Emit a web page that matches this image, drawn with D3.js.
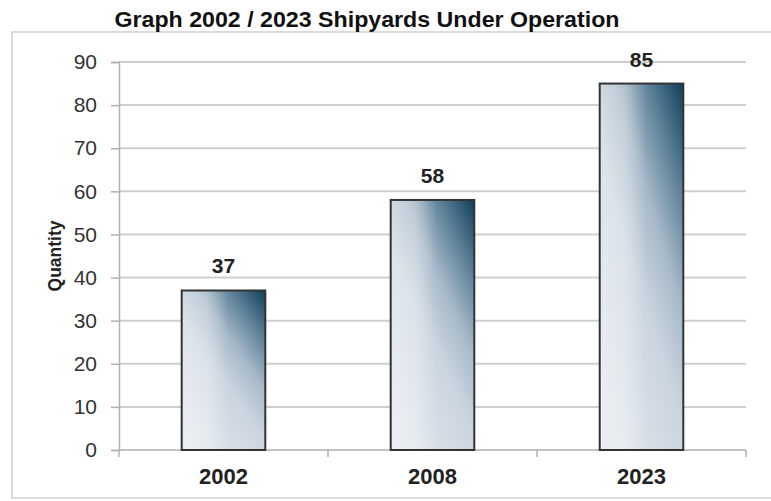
<!DOCTYPE html>
<html>
<head>
<meta charset="utf-8">
<script src="https://cdn.jsdelivr.net/npm/d3@7/dist/d3.min.js"></script>
<style>
  html, body { margin: 0; padding: 0; background: #fff; }
  svg { display: block; }
</style>
</head>
<body>
<script>
const title = "Graph 2002 / 2023 Shipyards Under Operation";
const categories = ["2002", "2008", "2023"];
const values = [37, 58, 85];
const yTicks = [0, 10, 20, 30, 40, 50, 60, 70, 80, 90];
const yLabel = "Quantity";

const W = 771, H = 501;
const margin = { left: 119, right: 25, top: 62, bottom: 51 };
const FONT = "Liberation Sans, Arial, sans-serif";

const svg = d3.select("body").append("svg").attr("width", W).attr("height", H);

// gradients
const defs = svg.append("defs");
const g1 = defs.append("linearGradient").attr("id", "barDiag")
  .attr("x1", 0.25).attr("y1", 1).attr("x2", 1).attr("y2", 0);
[[0, "#dfe5ec"], [0.4, "#cbd5df"], [0.6, "#a7b9c8"], [0.8, "#5c8098"], [1, "#0f3e5a"]]
  .forEach(([o, c]) => g1.append("stop").attr("offset", o).attr("stop-color", c));
const g2 = defs.append("linearGradient").attr("id", "barHi")
  .attr("x1", 0).attr("y1", 0).attr("x2", 1).attr("y2", 0);
[[0, "#ffffff", 0.35], [0.3, "#ffffff", 0.3], [0.55, "#ffffff", 0.0], [1, "#ffffff", 0]]
  .forEach(([o, c, a]) => g2.append("stop").attr("offset", o).attr("stop-color", c).attr("stop-opacity", a));

// outer frame
svg.append("rect").attr("x", 12).attr("y", 32).attr("width", 800).attr("height", 466)
  .attr("fill", "none").attr("stroke", "#d0d0d0").attr("stroke-width", 1.5);

// title
svg.append("text").attr("x", 367).attr("y", 27).attr("text-anchor", "middle")
  .attr("font-family", FONT).attr("font-weight", "bold")
  .attr("font-size", 22).attr("textLength", 505).attr("lengthAdjust", "spacingAndGlyphs")
  .attr("fill", "#111").text(title);

const x = d3.scaleBand().domain(categories)
  .range([margin.left, W - margin.right]).paddingInner(0.6).paddingOuter(0.3);
const y = d3.scaleLinear().domain([0, 90]).range([H - margin.bottom, margin.top]);

// gridlines
svg.append("g").selectAll("line").data(yTicks.slice(1)).join("line")
  .attr("x1", margin.left).attr("x2", W - margin.right)
  .attr("y1", d => y(d)).attr("y2", d => y(d))
  .attr("stroke", "#cfcfcf").attr("stroke-width", 2);

// y axis
const yAxis = svg.append("g").attr("transform", `translate(${margin.left},0)`)
  .call(d3.axisLeft(y).tickValues(yTicks).tickSize(8).tickPadding(14));
yAxis.select(".domain").attr("stroke", "#b0b0b0").attr("stroke-width", 1.5);
yAxis.selectAll(".tick line").attr("stroke", "#b0b0b0").attr("stroke-width", 1.5);
yAxis.selectAll("text").attr("font-family", FONT)
  .attr("font-size", 21).attr("fill", "#333");

// x axis
const xAxisG = svg.append("g").attr("transform", `translate(0,${y(0)})`);
xAxisG.append("line").attr("x1", margin.left).attr("x2", W - margin.right)
  .attr("stroke", "#b0b0b0").attr("stroke-width", 1.5);
const bounds = categories.map(c => x(c) - x.step() * x.paddingInner() / 2);
bounds.push(W - margin.right);
bounds[0] = margin.left;
xAxisG.selectAll("line.tk").data(bounds).join("line").attr("class", "tk")
  .attr("x1", d => d).attr("x2", d => d).attr("y1", 0).attr("y2", 7)
  .attr("stroke", "#b0b0b0").attr("stroke-width", 1.5);
xAxisG.selectAll("text").data(categories).join("text")
  .attr("x", d => x(d) + x.bandwidth() / 2).attr("y", 34)
  .attr("text-anchor", "middle")
  .attr("font-family", FONT).attr("font-weight", "bold")
  .attr("font-size", 22).attr("fill", "#222").text(d => d);

// y label
svg.append("text").attr("transform", `translate(61,${(y(0) + y(90)) / 2}) rotate(-90)`)
  .attr("text-anchor", "middle")
  .attr("font-family", FONT).attr("font-weight", "bold")
  .attr("font-size", 17.5).attr("fill", "#222").text(yLabel);

// bars
const bars = svg.append("g");
const data = categories.map((c, i) => ({ c, v: values[i] }));
bars.selectAll("rect.base").data(data).join("rect").attr("class", "base")
  .attr("x", d => x(d.c)).attr("width", x.bandwidth())
  .attr("y", d => y(d.v)).attr("height", d => y(0) - y(d.v))
  .attr("fill", "url(#barDiag)");
bars.selectAll("rect.hi").data(data).join("rect").attr("class", "hi")
  .attr("x", d => x(d.c)).attr("width", x.bandwidth())
  .attr("y", d => y(d.v)).attr("height", d => y(0) - y(d.v))
  .attr("fill", "url(#barHi)").attr("stroke", "#333").attr("stroke-width", 2);

// value labels
svg.append("g").selectAll("text").data(data).join("text")
  .attr("x", d => x(d.c) + x.bandwidth() / 2).attr("y", d => y(d.v) - 17)
  .attr("text-anchor", "middle")
  .attr("font-family", FONT).attr("font-weight", "bold")
  .attr("font-size", 21).attr("fill", "#222").text(d => d.v);
</script>
</body>
</html>
